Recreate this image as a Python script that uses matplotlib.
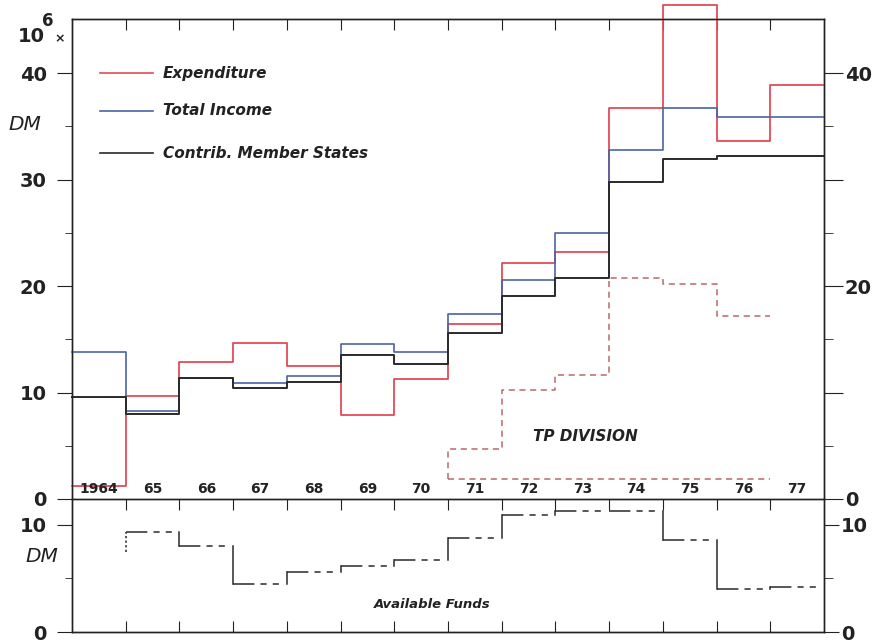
import numpy as np
import matplotlib
matplotlib.use("Agg")
import matplotlib.pyplot as plt

plt.rcParams['font.family'] = ['DejaVu Sans']

years = np.arange(1964, 1978)
year_labels = ["1964", "65", "66", "67", "68", "69", "70", "71", "72", "73", "74", "75", "76", "77"]

# 10^6 DM
expenditure = [1.25, 9.65, 12.9, 14.7, 12.5, 7.9, 11.3, 16.45, 22.15, 23.25, 36.7, 46.4, 33.6, 38.9]
total_income = [13.8, 8.3, 11.4, 10.9, 11.6, 14.6, 13.85, 17.4, 20.6, 25.0, 32.8, 36.7, 35.9, 35.9]
contrib_members = [9.55, 7.95, 11.4, 10.4, 11.0, 13.5, 12.7, 15.6, 19.1, 20.8, 29.8, 31.9, 32.25, 32.2]

tp_years = np.arange(1971, 1977)
tp_division = [4.7, 10.2, 11.65, 20.8, 20.2, 17.2]
tp_base = 1.85

funds_years = np.arange(1965, 1978)
available_funds = [9.3, 8.0, 4.5, 5.6, 6.2, 6.7, 8.8, 10.9, 11.3, 11.25, 8.6, 4.05, 4.2]
funds_start = 7.45

RED = '#e24b55'
BLUE = '#4d62a8'
BLACK = '#2a2a2a'
TP = '#b86a6a'
TXT = '#222222'

fig = plt.figure(figsize=(8.79, 6.41), dpi=100)
fig.patch.set_facecolor('white')

x0, x1 = 72 / 879, 824 / 879
ytop_ax = 1 - 19 / 641
ymid = 1 - 499 / 641
ybot = 1 - 632 / 641

ax = fig.add_axes([x0, ymid, x1 - x0, ytop_ax - ymid])
axb = fig.add_axes([x0, ybot, x1 - x0, ymid - ybot])

edges = np.append(years - 0.5, years[-1] + 0.5)


def steps(vals):
    return np.append(vals, vals[-1])


for vals, col, lw in [(expenditure, RED, 1.3), (total_income, BLUE, 1.2), (contrib_members, BLACK, 1.4)]:
    ax.step(edges, steps(vals), where='post', color=col, lw=lw, clip_on=False, zorder=3)

# TP division outline
tp_edges = np.append(tp_years - 0.5, tp_years[-1] + 0.5)
tx = np.concatenate([[tp_edges[0]], tp_edges])
ty = np.concatenate([[tp_base], steps(tp_division)])
ax.step(tx, ty, where='post', color=TP, lw=1.1, ls=(0, (4, 3)))
ax.plot([tp_edges[0], tp_edges[-1]], [tp_base, tp_base], color=TP, lw=1.1, ls=(0, (4, 3)))
ax.text(1973.05, 5.9, "TP DIVISION", fontsize=11, style='italic', fontweight='bold', color=TXT,
        ha='center', va='center')

# year labels
for yr, lab in zip(years, year_labels):
    ax.text(yr, 0.95, lab, fontsize=10, fontweight='bold', color=TXT, ha='center', va='center')

# legend drawn by hand
leg = [("Expenditure", RED, 40.0), ("Total Income", BLUE, 36.5), ("Contrib. Member States", BLACK, 32.5)]
for name, col, yy in leg:
    ax.plot([1964.02, 1965.0], [yy, yy], color=col, lw=1.2)
    ax.text(1965.19, yy, name, fontsize=11, style='italic', fontweight='bold', color=TXT,
            va='center', ha='left')

ax.set_xlim(1963.5, 1977.5)
ax.set_ylim(0, 45.1)
ax.set_xticks(years[:-1] + 0.5)
ax.tick_params(axis='x', top=True, bottom=False, labelbottom=False, direction='in', length=8, color=TXT)
ax.set_yticks([0, 10, 20, 30, 40])
ax.set_yticks([5, 15, 25, 35], minor=True)
ax.tick_params(axis='y', which='major', direction='out', length=11, labelsize=14, pad=7, colors=TXT)
ax.tick_params(axis='y', which='minor', direction='out', length=5, color=TXT)
ax.spines['bottom'].set_visible(False)

axr = ax.twinx()
axr.set_ylim(0, 45.1)
axr.set_yticks([0, 10, 20, 30, 40])
axr.set_yticklabels(['0', '', '20', '', '40'])
axr.set_yticks([5, 15, 25, 35], minor=True)
axr.tick_params(axis='y', which='major', direction='out', length=14, labelsize=14, pad=1, colors=TXT)
axr.tick_params(axis='y', which='minor', direction='out', length=6.5, color=TXT)
for a in (ax, axr):
    for s in a.spines.values():
        s.set_color(TXT)
        s.set_linewidth(1.0)
    for lab in a.get_yticklabels():
        lab.set_fontweight('bold')
axr.spines['bottom'].set_visible(False)

fig.text(18 / 879, 1 - 36 / 641, "10", fontsize=14, fontweight='bold', color=TXT, va='center', ha='left')
fig.text(42 / 879, 1 - 21 / 641, "6", fontsize=12, fontweight='bold', color=TXT, va='center', ha='left')
fig.text(54 / 879, 1 - 39 / 641, "×", fontsize=9, color=TXT, va='center', ha='left', fontweight='bold')
fig.text(8 / 879, 1 - 125 / 641, "DM", fontsize=14.5, style='italic', color=TXT, va='center', ha='left')

# Available funds panel
fe = np.append(funds_years - 0.5, funds_years[-1] + 0.5)
for i, v in enumerate(available_funds):
    axb.plot([fe[i], fe[i + 1]], [v, v], color=BLACK, lw=1.1, ls=(0, (14, 4, 4, 4, 4, 6)))
    if i > 0:
        axb.plot([fe[i], fe[i]], [available_funds[i - 1], v], color=BLACK, lw=1.1)
axb.plot([fe[0], fe[0]], [funds_start, available_funds[0]], color=BLACK, lw=1.1, ls=(0, (1.5, 1.5)))
axb.text(1970.2, 2.6, "Available Funds", fontsize=9.5, style='italic', fontweight='bold', color=TXT,
         ha='center', va='center')

axb.set_xlim(1963.5, 1977.5)
axb.set_ylim(0, 12.4)
axb.set_xticks(years[:-1] + 0.5)
axb.tick_params(axis='x', top=True, bottom=True, labelbottom=False, direction='in', length=8, color=TXT)
axb.set_yticks([0, 10])
axb.set_yticks([5], minor=True)
axb.tick_params(axis='y', which='major', direction='out', length=11, labelsize=14, pad=7, colors=TXT)
axb.tick_params(axis='y', which='minor', direction='out', length=5, color=TXT)
axbr = axb.twinx()
axbr.set_ylim(0, 12.4)
axbr.set_yticks([0, 10])
axbr.set_yticks([5], minor=True)
axbr.tick_params(axis='y', which='major', direction='out', length=11, labelsize=14, pad=1, colors=TXT)
axbr.tick_params(axis='y', which='minor', direction='out', length=6.5, color=TXT)
for a in (axb, axbr):
    for s in a.spines.values():
        s.set_color(TXT)
        s.set_linewidth(1.0)
    for lab in a.get_yticklabels():
        lab.set_fontweight('bold')
fig.text(25 / 879, 1 - 556 / 641, "DM", fontsize=14.5, style='italic', color=TXT, va='center', ha='left')

fig.savefig("out.png", dpi=100)
